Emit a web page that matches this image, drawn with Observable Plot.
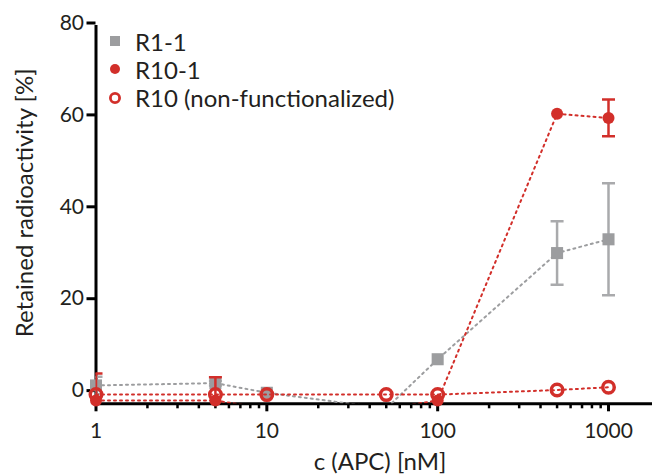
<!DOCTYPE html>
<html>
<head>
<meta charset="utf-8">
<script src="https://cdn.jsdelivr.net/npm/d3@7"></script>
<script src="https://cdn.jsdelivr.net/npm/@observablehq/plot@0.6"></script>
<style>
  html, body { margin: 0; padding: 0; background: #fff; }
  #wrap { position: relative; width: 652px; height: 475px; overflow: hidden; font-family: Lato, sans-serif; color: #231f20; }
  #legend { position: absolute; left: 0; top: 0; }
  .row { position: absolute; left: 106px; height: 28px; display: flex; align-items: center; white-space: nowrap; font-size: 24px; }
  .row svg { width: 18px; height: 18px; margin-right: 11px; }
</style>
</head>
<body>
<div id="wrap">
  <div id="chart"></div>
  <div id="legend"></div>
</div>
<script>
// APC concentration (nM)
const conc = [1, 5, 10, 50, 100, 500, 1000];

// Retained radioactivity (%) – mean and SD per concentration
const r1Mean = [2.0, 2.5, 0.4, -3.0, 7.7, 30.8, 33.8];
const r1Sd   = [1.9, 0.5, 0, 0, 0, 6.9, 12.2];
const r10Mean = [-1.3, -1.3, -3.0, -3.0, -1.3, 61.1, 60.2];
const r10Sd   = [5.9, 5.1, 0, 0, 0, 0, 4.0];
const r10nfMean = [0, 0, 0, 0, 0, 1.0, 1.6];

const seriesNames = ["R1-1", "R10-1", "R10 (non-functionalized)"];
const xTicks = [1, 10, 100, 1000];
const yTicks = [0, 20, 40, 60, 80];
const yDomain = [-2, 80];

const gray = "#9c9d9f";
const grayBar = "#a9aaac";
const red = "#d22f2a";
const ink = "#231f20";

function rows(name, means, sds) {
  return conc.map((c, i) => ({series: name, c, v: means[i], sd: sds ? sds[i] : 0}));
}
const r1 = rows(seriesNames[0], r1Mean, r1Sd);
const r10 = rows(seriesNames[1], r10Mean, r10Sd);
const r10nf = rows(seriesNames[2], r10nfMean, null);

// points outside the value axis are not plotted
const inRange = d => d.v >= yDomain[0];
const withErr = d => d.sd > 0;

// horizontal cap for error bars
const cap = {draw(ctx) { ctx.moveTo(-6.5, 0); ctx.lineTo(6.5, 0); }};

// minor ticks for the log axis
const minorTicks = [];
for (const dec of [1, 10, 100]) for (let k = 2; k <= 9; k++) minorTicks.push(dec * k);

function errorMarks(data, color) {
  const e = data.filter(withErr);
  return [
    Plot.ruleX(e, {x: "c", y1: d => d.v - d.sd, y2: d => d.v + d.sd, stroke: color, strokeWidth: 2.5, clip: true}),
    Plot.dot(e, {x: "c", y: d => d.v + d.sd, symbol: cap, r: 5, stroke: color, fill: "none", strokeWidth: 2.5, clip: true}),
    Plot.dot(e, {x: "c", y: d => d.v - d.sd, symbol: cap, r: 5, stroke: color, fill: "none", strokeWidth: 2.5, clip: true})
  ];
}

const lineStyle = {x: "c", y: "v", strokeWidth: 2, strokeDasharray: "2,4", clip: true};

const chart = Plot.plot({
  width: 652,
  height: 475,
  marginLeft: 95.5,
  marginRight: 0,
  insetRight: 44,
  marginTop: 26.5,
  marginBottom: 71.7,
  style: {fontFamily: "Lato, sans-serif", color: ink, background: "white"},
  x: {type: "log", domain: [1, 1000]},
  y: {domain: yDomain},
  marks: [
    // axes
    Plot.axisX({ticks: minorTicks, tickSize: 5, strokeWidth: 2.5, tickFormat: () => "", label: null, stroke: "#000"}),
    Plot.axisX({ticks: xTicks, tickSize: 8, tickPadding: 11, strokeWidth: 3, fontSize: 21, tickFormat: d => String(d), label: null, stroke: "#000", fill: ink}),
    Plot.axisY({ticks: yTicks, tickSize: 9, tickPadding: 3, strokeWidth: 3, fontSize: 21, dy: -4, label: null, stroke: "#000", fill: ink}),
    Plot.ruleY([yDomain[0]], {strokeWidth: 3, stroke: "#000"}),
    Plot.ruleX([1], {strokeWidth: 3, stroke: "#000", strokeLinecap: "square"}),

    // R1-1
    Plot.line(r1, {...lineStyle, stroke: gray}),
    ...errorMarks(r1, grayBar),
    Plot.dot(r1.filter(inRange), {x: "c", y: "v", symbol: "square", r: 6.8, fill: gray}),

    // R10-1
    Plot.line(r10, {...lineStyle, stroke: red}),
    ...errorMarks(r10, red),
    Plot.dot(r10.filter(inRange), {x: "c", y: "v", symbol: "circle", r: 6, fill: red}),

    // R10 (non-functionalized)
    Plot.line(r10nf, {...lineStyle, stroke: red}),
    Plot.dot(r10nf.filter(inRange), {x: "c", y: "v", symbol: "circle", r: 5.75, fill: "none", stroke: red, strokeWidth: 3.5}),

    // axis titles
    Plot.text(["Retained radioactivity [%]"], {frameAnchor: "left", textAnchor: "middle", lineAnchor: "middle", rotate: -90, dx: -70.2, dy: -12.5, fontSize: 24, fill: ink}),
    Plot.text(["c (APC) [nM]"], {frameAnchor: "bottom", textAnchor: "middle", lineAnchor: "middle", dx: 5.75, dy: 59, fontSize: 24, fill: ink})
  ]
});
document.getElementById("chart").append(chart);

// legend
const legendSymbols = [
  '<rect x="4" y="4" width="10" height="10" fill="' + gray + '"/>',
  '<circle cx="9" cy="9" r="5" fill="' + red + '"/>',
  '<circle cx="9" cy="9" r="4.6" fill="none" stroke="' + red + '" stroke-width="2.8"/>'
];
const legendTops = [27, 55, 83.5];
const legend = document.getElementById("legend");
seriesNames.forEach((name, i) => {
  const row = document.createElement("div");
  row.className = "row";
  row.style.top = legendTops[i] + "px";
  row.innerHTML = '<svg viewBox="0 0 18 18">' + legendSymbols[i] + '</svg><span>' + name + '</span>';
  legend.append(row);
});
</script>
</body>
</html>
